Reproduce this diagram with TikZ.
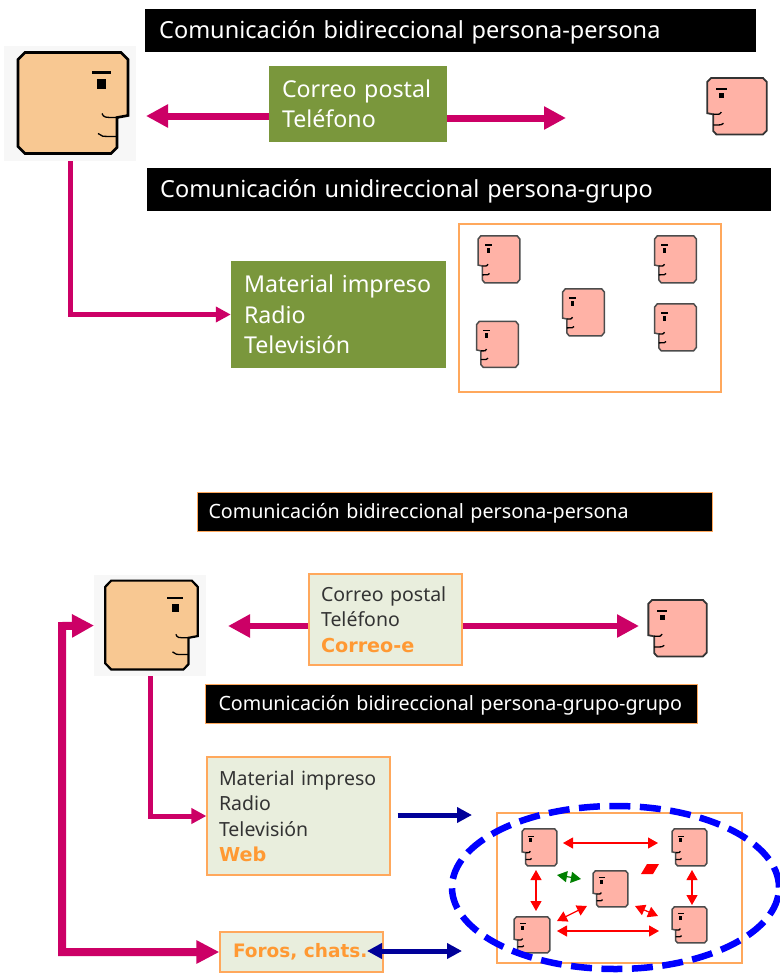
\documentclass[tikz,border=0pt]{standalone}
\usepackage{fontspec}
\setmainfont{Noto Sans}
\newfontfamily\negrita{DejaVu Sans}
\usepackage{xcolor}
\usetikzlibrary{shapes.geometric, arrows.meta}

\definecolor{rosa}{HTML}{CC0066}
\definecolor{azul}{HTML}{000099}
\definecolor{verde}{HTML}{7A973C}
\definecolor{crema}{HTML}{E9EEDD}
\definecolor{naranja}{HTML}{FF9933}
\definecolor{borde}{HTML}{FFA85C}
\definecolor{piel}{HTML}{F8C892}
\definecolor{salmon}{HTML}{FFB2A6}

\tikzset{cara/.pic={
  \path[pic actions] (-55,-44) -- (-48,-51) -- (48,-51) -- (55,-44) -- (55,12) -- (44,14)
    -- (44,44) -- (38,50) -- (-48,50) -- (-55,43) -- cycle;
  \fill[black] (24,-25) rectangle (33,-15);
  \fill[black] (19,-32.5) rectangle (38,-30);
  \draw[black, line width=1.3pt] (29,10) .. controls (31,14) .. (44,14);
  \draw[black, line width=1.3pt] (25,30) .. controls (28,33) .. (44,33);
}}

% name, x, y, width, height
\newcommand{\caritaS}[5]{
  \node[hueco, minimum width=#4pt, minimum height=#5pt] (#1) at (#2,#3) {};
  \pic[draw=black!70, line width=1.5pt, fill=salmon, xscale=-#4/111, yscale=#5/101] at (#1) {cara};
}
\newcommand{\resalta}[2][19.2]{\textcolor{naranja}{\negrita\bfseries\fontsize{#1}{25.5}\selectfont #2}}

\begin{document}
\begin{tikzpicture}[x=1pt, y=-1pt, line join=miter]
\tikzstyle{hueco} = [inner sep=0pt, outer sep=0pt]
\tikzstyle{banda} = [rectangle, fill=black, text=white, anchor=west, inner ysep=0pt, align=left]
\tikzstyle{bandaA} = [banda, minimum height=43pt, text depth=2pt, font=\fontsize{23.5}{28}\selectfont]
\tikzstyle{bandaB} = [banda, draw=borde, line width=1pt, minimum height=39pt, text depth=1pt, font=\fontsize{19.7}{23}\selectfont]
\tikzstyle{verdeC} = [rectangle, fill=verde, text=white, align=left, inner ysep=0pt, font=\fontsize{23.2}{30.5}\selectfont]
\tikzstyle{cremaC} = [rectangle, fill=crema, draw=borde, line width=1.2pt, text=black!80, align=left, inner ysep=0pt, font=\fontsize{19.5}{25.5}\selectfont]
\tikzstyle{marco} = [rectangle, draw=borde, line width=1.2pt, inner sep=0pt]
\tikzstyle{gruesa} = [draw=rosa, -{Triangle[length=22pt,width=22pt]}]
\tikzstyle{fina} = [draw=rosa, line width=5pt, -{Triangle[length=15pt,width=15pt]}]
\tikzstyle{marino} = [draw=azul, line width=5pt, -{Triangle[length=15pt,width=15pt]}]
\tikzstyle{roja} = [draw=red, line width=1.2pt, {Triangle[length=10pt,width=11pt]}-{Triangle[length=10pt,width=11pt]}]
\useasboundingbox (0,0) rectangle (779,974);

% parte de arriba
\node [bandaA, minimum width=611pt, text width=583pt, inner xsep=14pt] (tituloA) at (145,30.5) {Comunicación bidireccional persona-persona};
\node [bandaA, minimum width=624pt, text width=598pt, inner xsep=13pt] (tituloB) at (147,189.5) {Comunicación unidireccional persona-grupo};

\node [hueco, fill=black!3, minimum width=132pt, minimum height=115pt] (caraA) at (70,103.5) {};
\pic [draw=black, line width=2.6pt, fill=piel] at (73,103.5) {cara};
\node [hueco, minimum width=60pt, minimum height=57pt] (caraD) at (737,106.5) {};
\pic [draw=black!80, line width=1.8pt, fill=salmon, xscale=-0.54, yscale=0.56] at (caraD) {cara};

\node [verdeC, minimum width=178pt, minimum height=76pt, text width=152pt, inner xsep=13pt] (correoA) at (358,104) {Correo postal\\Teléfono};
\node [verdeC, minimum width=215pt, minimum height=107pt, text width=189pt, inner xsep=13pt] (materialA) at (338.5,314.5) {\mbox{Material impreso}\\Radio\\Televisión};
\node [marco, minimum width=262pt, minimum height=168pt] (grupoA) at (590,308) {};

\caritaS{a1}{499}{259.5}{42}{47}
\caritaS{a2}{675.5}{259.5}{42}{47}
\caritaS{a3}{583.5}{312.5}{42}{47}
\caritaS{a4}{675.5}{327.5}{42}{47}
\caritaS{a5}{497.5}{344.5}{42}{46}

\coordinate (puntaI) at (146,116);
\coordinate (puntaD) at (566,118);
\draw [gruesa, line width=7pt] (correoA.west |- puntaI) -- (puntaI);
\draw [gruesa, line width=7pt] (correoA.east |- puntaD) -- (puntaD);
\draw [fina] (caraA.south) |- (materialA.west);

% parte de abajo
\node [bandaB, minimum width=515pt, text width=493pt, inner xsep=11pt] (tituloC) at (197,511.5) {Comunicación bidireccional persona-persona};
\node [bandaB, minimum width=492pt, text width=466pt, inner xsep=13pt] (tituloD) at (205,703.5) {Comunicación bidireccional persona-grupo-grupo};

\node [hueco, fill=black!3, minimum width=112pt, minimum height=101pt] (caraB) at (150,625.5) {};
\pic [draw=black, line width=2.2pt, fill=piel, xscale=0.84, yscale=0.88] at (151.5,625.5) {cara};
\node [hueco, minimum width=59pt, minimum height=57pt] (caraE) at (677.5,628.5) {};
\pic [draw=black!80, line width=1.8pt, fill=salmon, xscale=-0.53, yscale=0.56] at (caraE) {cara};

\node [cremaC, minimum width=153pt, minimum height=91pt, text width=129pt, inner xsep=12pt] (correoB) at (385.5,619.5) {Correo postal\\Teléfono\\\resalta{Correo-e}};
\node [cremaC, minimum width=183pt, minimum height=118pt, text width=159pt, inner xsep=12pt] (materialB) at (298.5,816) {\mbox{Material impreso}\\Radio\\Televisión\\\resalta{Web}};
\node [cremaC, minimum width=163pt, minimum height=40pt, text width=137pt, inner xsep=13pt] (foros) at (301.5,952) {\resalta[18.5]{Foros, chats.}};

\node [marco, minimum width=245pt, minimum height=150pt] (grupoB) at (619.5,888) {};
\caritaS{b1}{539.5}{847.5}{35}{37}
\caritaS{b2}{689.5}{847.5}{35}{37}
\caritaS{b3}{610.5}{889}{35}{36}
\caritaS{b4}{689.5}{925}{35}{36}
\caritaS{b5}{532}{935}{36}{36}

\draw [roja, shorten <=6pt, shorten >=14pt] ([shift={(0,-4.5)}]b1.east) -- ([shift={(0,-4.5)}]b2.west);
\draw [roja, shorten <=4pt, shorten >=6pt] ([shift={(-3.5,0)}]b1.south) -- ([shift={(4,0)}]b5.north);
\draw [roja, shorten <=4pt, shorten >=2pt] ([shift={(2.5,0)}]b2.south) -- ([shift={(2.5,0)}]b4.north);
\draw [roja, shorten <=7pt, shorten >=13pt] ([shift={(0,-4)}]b5.east) -- ([shift={(0,6)}]b4.west);
\draw [roja] ([shift={(7,4)}]b5.north east) -- ([shift={(-6,-1)}]b3.south west);
\draw [roja] ([shift={(7,-1)}]b3.south east) -- ([shift={(-14,9)}]b4.north west);
\draw [roja, draw=green!50!black] ([shift={(-36,4)}]b3.north west) -- ([shift={(-12,8)}]b3.north west);
\fill [red] (641,874) -- (647,864) -- (659,864) -- (653,874) -- cycle;

\node [ellipse, draw=blue, line width=6.5pt, dash pattern=on 21pt off 9.5pt, minimum width=327pt, minimum height=163pt, inner sep=0pt] (grupoC) at (615.5,887.5) {};

\coordinate (puntaW) at (228,626);
\coordinate (puntaX) at (639,626);
\coordinate (puntaY) at (472,815);
\coordinate (puntaZ) at (462,951);
\coordinate (retorno) at (62,626);
\coordinate (puntaV) at (367,951);
\draw [gruesa, line width=6.5pt] (correoB.west |- puntaW) -- (puntaW);
\draw [gruesa, line width=6.5pt] (correoB.east |- puntaX) -- (puntaX);
\draw [fina] (caraB.south) |- (materialB.west);
\draw [marino, shorten <=7pt] (materialB.east |- puntaY) -- (puntaY);
\draw [marino, {Triangle[length=15pt,width=15pt]}-{Triangle[length=15pt,width=15pt]}] (puntaV) -- (puntaZ);
\draw [gruesa, {Triangle[length=22pt,width=22pt]}-{Triangle[length=23pt,width=22pt]}, line width=8pt] (caraB.west) -- (retorno) |- (foros.west);

\end{tikzpicture}
\end{document}
